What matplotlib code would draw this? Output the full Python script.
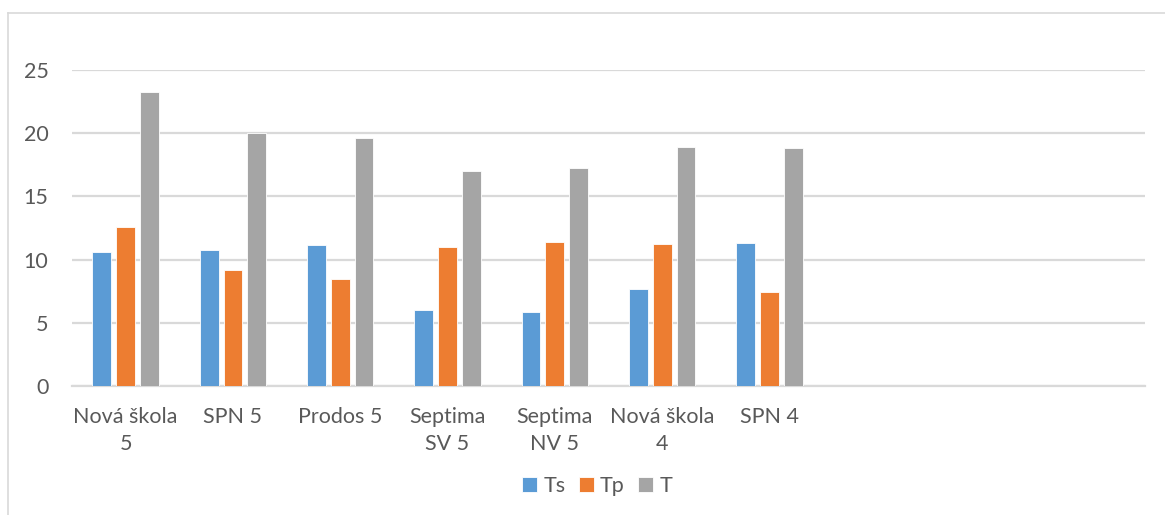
import matplotlib
matplotlib.use("Agg")
import matplotlib.pyplot as plt
from matplotlib.lines import Line2D
import numpy as np

# Textbook series and their scores
categories = ["Nová škola\n5", "SPN 5", "Prodos 5", "Septima\nSV 5",
              "Septima\nNV 5", "Nová škola\n4", "SPN 4"]
ts_values = [10.62, 10.76, 11.13, 6.01, 5.83, 7.65, 11.34]
tp_values = [12.55, 9.18, 8.44, 10.97, 11.37, 11.21, 7.46]
t_values = [23.26, 20.0, 19.65, 17.03, 17.27, 18.91, 18.85]
series_names = ["Ts", "Tp", "T"]
y_ticks = [0, 5, 10, 15, 20, 25]

colors = ["#5B9BD5", "#ED7D31", "#A5A5A5"]
text_color = "#595959"
grid_color = "#D9D9D9"
n_slots = 10  # category axis reserves room for ten groups

plt.rcParams["font.family"] = ["Lato", "DejaVu Sans"]

W, H = 1165, 515
fig = plt.figure(figsize=(W / 100, H / 100), dpi=100)
ax = fig.add_axes([72 / W, (H - 386) / H, (1145 - 72) / W, (386 - 70) / H])

x = np.arange(len(categories))
bar_w = 0.175
step = 0.222
for i, (vals, name) in enumerate(zip([ts_values, tp_values, t_values], series_names)):
    ax.bar(x + (i - 1) * step, vals, width=bar_w, color=colors[i], label=name,
           edgecolor="white", linewidth=0.6, zorder=3)

ax.set_xlim(-0.5, n_slots - 0.5)
ax.set_ylim(0, 25)
ax.set_yticks(y_ticks)
ax.set_xticks(x)
ax.set_xticklabels(categories, linespacing=1.45)
ax.yaxis.grid(True, color=grid_color, linewidth=1.6, zorder=0)
ax.tick_params(axis="both", length=0, labelsize=15.5, labelcolor=text_color)
ax.tick_params(axis="y", pad=17)
ax.tick_params(axis="x", pad=15)
for side in ["top", "right", "left"]:
    ax.spines[side].set_visible(False)
ax.spines["bottom"].set_color(grid_color)
ax.spines["bottom"].set_linewidth(1.6)

leg = fig.legend(loc="center", bbox_to_anchor=(597 / W, (H - 486) / H), ncol=3,
                 frameon=False, fontsize=15.5, handlelength=0.7, handleheight=0.7,
                 handletextpad=0.3, columnspacing=0.6)
for t in leg.get_texts():
    t.set_color(text_color)

# Chart area border (top and left edges)
fig.add_artist(Line2D([8 / W, 1], [(H - 13) / H, (H - 13) / H], color=grid_color,
                      linewidth=1.2, transform=fig.transFigure))
fig.add_artist(Line2D([8 / W, 8 / W], [0, (H - 13) / H], color=grid_color,
                      linewidth=1.2, transform=fig.transFigure))

fig.savefig("out.png", dpi=100, facecolor="white")
